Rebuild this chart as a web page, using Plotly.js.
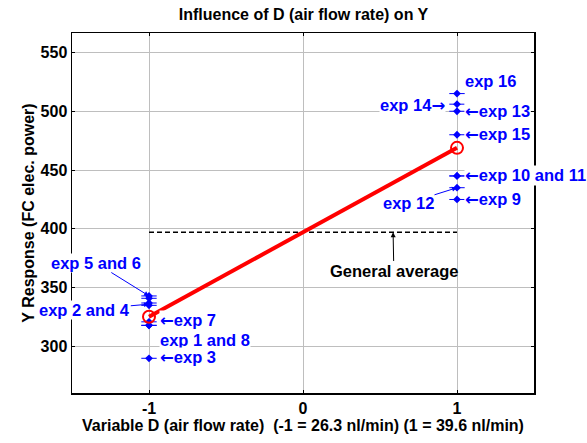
<!DOCTYPE html>
<html>
<head>
<meta charset="utf-8">
<script src="https://cdn.plot.ly/plotly-3.0.1.min.js"></script>
<style>html,body{margin:0;padding:0;background:#fff;}#chart{width:587px;height:443px;}</style>
</head>
<body>
<div id="chart"></div>
<script>
// ---- data ----
const levels = [-1, 1];
const xTickVals = [-1, 0, 1];
const xTickLabels = ['-1', '0', '1'];
const yTickVals = [300, 350, 400, 450, 500, 550];
const yTickLabels = ['300', '350', '400', '450', '500', '550'];
const expNames = ['exp 1','exp 2','exp 3','exp 4','exp 5','exp 6','exp 7','exp 8',
                  'exp 9','exp 10','exp 11','exp 12','exp 13','exp 14','exp 15','exp 16'];
const expLevel = [-1,-1,-1,-1,-1,-1,-1,-1, 1,1,1,1,1,1,1,1];
const expY = [318,337,290,335,343,341,321,318, 425,445,445,435,500,506,480,515];

// ---- derived ----
function meanAt(l){const v=expY.filter((y,i)=>expLevel[i]===l);return v.reduce((a,b)=>a+b,0)/v.length;}
const means = levels.map(meanAt);
const generalAverage = (means[0]+means[1])/2;

const BLUE = 'rgb(0,0,255)';
const FONT = 'Liberation Sans, Arial, sans-serif';
const B = s => '<b>' + s + '</b>';
const LA = '<span style="font-family:DejaVu Sans">\u2190</span>';
const RA = '<span style="font-family:DejaVu Sans">\u2192</span>';
const AFS = 16.5;

const traces = [
  {x: expLevel, y: expY, mode: 'markers', type: 'scatter', hoverinfo: 'skip',
   marker: {symbol: 'diamond', size: 6, color: BLUE}},
  {x: expLevel, y: expY, mode: 'markers', type: 'scatter', hoverinfo: 'skip',
   marker: {symbol: 'line-ew-open', size: 11, color: BLUE, line: {color: BLUE, width: 1}}},
  {x: levels, y: [generalAverage, generalAverage], mode: 'lines', type: 'scatter',
   line: {color: 'black', width: 1.5, dash: '5px,3px'}},
  {x: levels, y: means, mode: 'lines+markers', type: 'scatter',
   line: {color: 'red', width: 4},
   marker: {symbol: 'circle-open', size: 12, color: 'red', line: {color: 'red', width: 2}}}
];

function lab(text, x, y, xanchor){
  return {text: B(text), x: x, y: y, xref: 'x', yref: 'y', xanchor: xanchor, yanchor: 'middle',
    showarrow: false, bgcolor: 'white', borderpad: 0,
    font: {family: FONT, size: AFS, color: BLUE}};
}
function arr(text, x, y, ax, ay){
  return {text: B(text), x: x, y: y, ax: ax, ay: ay, xref: 'x', yref: 'y', axref: 'x', ayref: 'y',
    showarrow: true, arrowhead: 2, arrowsize: 1, arrowwidth: 1, arrowcolor: BLUE,
    bgcolor: 'white', borderpad: 0,
    font: {family: FONT, size: AFS, color: BLUE}};
}

const annotations = [
  lab('exp 16', 1.045, 525.6, 'left'),
  lab('exp 14' + RA, 0.93, 505, 'right'),
  lab(LA + 'exp 13', 1.045, 500, 'left'),
  lab(LA + 'exp 15', 1.045, 480.5, 'left'),
  lab(LA + 'exp 10 and 11', 1.045, 445.6, 'left'),
  lab(LA + 'exp 9', 1.045, 425, 'left'),
  arr('exp 12', 1, 435, 0.685, 422),
  arr('exp 5 and 6', -1, 343, -1.344, 371),
  arr('exp 2 and 4', -1, 336, -1.417, 331.2),
  lab(LA + 'exp 7', -0.935, 322.3, 'left'),
  lab('exp 1 and 8', -0.935, 305.8, 'left'),
  lab(LA + 'exp 3', -0.935, 290.5, 'left'),
  {text: B('General average'), x: 0.585, y: generalAverage, ax: 0.59, ay: 363.8, xref: 'x', yref: 'y',
   axref: 'x', ayref: 'y', showarrow: true, arrowhead: 2, arrowsize: 1, arrowwidth: 1, arrowcolor: 'black',
   font: {family: FONT, size: AFS, color: 'black'}}
];

const axisCommon = {
  showline: true, linecolor: 'black', linewidth: 1.5, mirror: 'ticks',
  ticks: 'inside', ticklen: 3, tickcolor: 'black',
  showgrid: true, gridcolor: '#bebebe', gridwidth: 1, zeroline: false,
  tickfont: {family: FONT, size: 16, color: 'black'}
};

const layout = {
  width: 587, height: 443,
  margin: {l: 72, r: 53, t: 33, b: 50},
  paper_bgcolor: 'white', plot_bgcolor: 'white',
  showlegend: false,
  title: {text: B('Influence of D (air flow rate) on Y'), x: 0.517, xanchor: 'center', y: 0.968, yanchor: 'middle',
          font: {family: FONT, size: 16, color: 'black'}},
  xaxis: Object.assign({}, axisCommon, {
    range: [-1.5, 1.5], tickmode: 'array', tickvals: xTickVals, ticktext: xTickLabels.map(B),
    title: {text: B('Variable D (air flow rate)  (-1 = 26.3 nl/min) (1 = 39.6 nl/min)'), standoff: 0,
            font: {family: FONT, size: 16, color: 'black'}}
  }),
  yaxis: Object.assign({}, axisCommon, {
    range: [260.5, 566.5], tickmode: 'array', tickvals: yTickVals, ticktext: yTickLabels.map(B),
    title: {text: B('Y Response (FC elec. power)'), standoff: 2,
            font: {family: FONT, size: 16, color: 'black'}}
  }),
  annotations: annotations
};

Plotly.newPlot('chart', traces, layout, {displayModeBar: false, staticPlot: true});
</script>
</body>
</html>
